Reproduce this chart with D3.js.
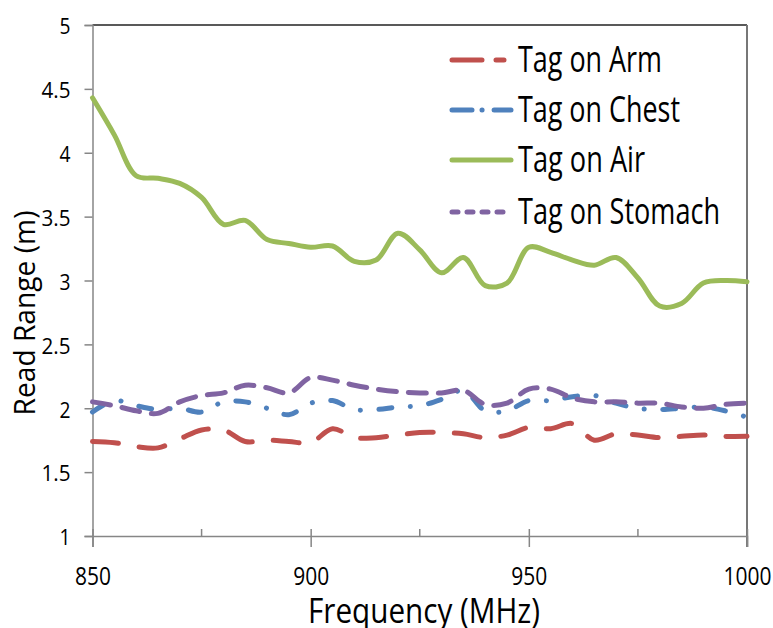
<!DOCTYPE html>
<html>
<head>
<meta charset="utf-8">
<script src="https://cdn.jsdelivr.net/npm/d3@7"></script>
<style>
  body { margin: 0; background: #fff; }
  svg text { font-family: "Open Sans", "DejaVu Sans", sans-serif; fill: #000; }
</style>
</head>
<body>
<svg width="773" height="628"></svg>
<script>
var freq = d3.range(850, 1001, 5);

// read range (m) per 5 MHz step
var arm = [1.74, 1.73, 1.70, 1.69, 1.76, 1.83, 1.83, 1.74, 1.75, 1.74, 1.73,
           1.84, 1.77, 1.77, 1.79, 1.81, 1.81, 1.80, 1.77, 1.79, 1.85, 1.84,
           1.88, 1.75, 1.80, 1.79, 1.77, 1.78, 1.79, 1.78, 1.78];
var chest = [1.97, 2.06, 2.02, 1.99, 2.00, 1.97, 2.05, 2.05, 2.00, 1.95, 2.04,
             2.06, 1.99, 1.99, 2.01, 2.02, 2.07, 2.14, 1.98, 1.98, 2.06, 2.06,
             2.09, 2.10, 2.04, 2.00, 1.99, 2.00, 2.01, 1.98, 1.93];
var air = [4.43, 4.14, 3.82, 3.80, 3.76, 3.65, 3.44, 3.47, 3.32, 3.29, 3.26,
           3.27, 3.15, 3.16, 3.37, 3.24, 3.06, 3.18, 2.96, 2.98, 3.26, 3.22,
           3.16, 3.12, 3.18, 3.02, 2.80, 2.82, 2.98, 3.00, 2.99];
var stomach = [2.05, 2.02, 1.98, 1.96, 2.05, 2.10, 2.12, 2.18, 2.16, 2.12, 2.24,
               2.22, 2.18, 2.15, 2.13, 2.12, 2.12, 2.14, 2.03, 2.04, 2.15, 2.15,
               2.08, 2.05, 2.05, 2.04, 2.04, 2.01, 2.00, 2.03, 2.04];

var seriesNames = ["Tag on Arm", "Tag on Chest", "Tag on Air", "Tag on Stomach"];
var xTicks = [850, 900, 950, 1000];
var xMinor = [875, 925, 975];
var yTicks = [1, 1.5, 2, 2.5, 3, 3.5, 4, 4.5, 5];

var series = [
  {name: seriesNames[0], values: arm, color: "#c0504d", dash: "26,21", legendDash: "30,14,8,40"},
  {name: seriesNames[1], values: chest, color: "#4f81bd", dash: "13,18.5,0.1,18.5", legendDash: "20,10,0.1,12,20"},
  {name: seriesNames[2], values: air, color: "#9bbb59", dash: null, legendDash: null},
  {name: seriesNames[3], values: stomach, color: "#8064a2", dash: "18,12", legendDash: "6,9"}
];

var svg = d3.select("svg");
var plotLeft = 92.5, plotRight = 747, plotTop = 25, plotBottom = 536;

var x = d3.scaleLinear().domain([850, 1000]).range([plotLeft, plotRight]);
var y = d3.scaleLinear().domain([1, 5]).range([plotBottom, plotTop]);

// frame
svg.append("line").attr("x1", plotLeft).attr("x2", plotRight).attr("y1", plotTop).attr("y2", plotTop)
    .attr("stroke", "#222").attr("stroke-width", 1.5);
svg.append("line").attr("x1", plotRight).attr("x2", plotRight).attr("y1", plotTop).attr("y2", plotBottom + 11)
    .attr("stroke", "#777").attr("stroke-width", 2);

// y axis
var yAxis = svg.append("g").attr("transform", "translate(" + plotLeft + ",0)")
    .call(d3.axisLeft(y).tickValues(yTicks).tickSize(8).tickPadding(14).tickFormat(d3.format("")));
yAxis.select(".domain").attr("stroke", "#868686").attr("stroke-width", 1.5);
yAxis.selectAll(".tick line").attr("stroke", "#868686").attr("stroke-width", 1.5);
yAxis.selectAll(".tick text").attr("font-size", 21)
    .attr("textLength", function(d) { return String(d).length === 1 ? 11 : 29; })
    .attr("lengthAdjust", "spacingAndGlyphs")
    .attr("dy", "0.42em");

// x axis
var xAxis = svg.append("g").attr("transform", "translate(0," + plotBottom + ")")
    .call(d3.axisBottom(x).tickValues(xTicks).tickSize(11).tickPadding(20).tickFormat(d3.format("")));
xAxis.select(".domain").attr("stroke", "#868686").attr("stroke-width", 1.5);
xAxis.selectAll(".tick line").attr("stroke", "#868686").attr("stroke-width", 1.5).attr("y1", -7);
xAxis.selectAll(".tick text").attr("font-size", 26)
    .attr("textLength", function(d) { return String(d).length * 12; })
    .attr("lengthAdjust", "spacingAndGlyphs");
svg.append("g").selectAll("line").data(xMinor).join("line")
    .attr("x1", function(d) { return x(d); }).attr("x2", function(d) { return x(d); })
    .attr("y1", plotBottom - 7).attr("y2", plotBottom)
    .attr("stroke", "#868686").attr("stroke-width", 1.5);

// axis titles
svg.append("text").attr("x", 424).attr("y", 623).attr("text-anchor", "middle")
    .attr("font-size", 34).attr("textLength", 232).attr("lengthAdjust", "spacingAndGlyphs")
    .text("Frequency (MHz)");
svg.append("text").attr("transform", "translate(35,313) rotate(-90)").attr("text-anchor", "middle")
    .attr("font-size", 29).attr("textLength", 205).attr("lengthAdjust", "spacingAndGlyphs")
    .text("Read Range (m)");

// lines
var line = d3.line()
    .x(function(d, i) { return x(freq[i]); })
    .y(function(d) { return y(d); })
    .curve(d3.curveCatmullRom.alpha(0.5));

svg.append("g").selectAll("path").data(series).join("path")
    .attr("d", function(d) { return line(d.values); })
    .attr("fill", "none")
    .attr("stroke", function(d) { return d.color; })
    .attr("stroke-width", 5)
    .attr("stroke-linecap", "round")
    .attr("stroke-linejoin", "round")
    .attr("stroke-dasharray", function(d) { return d.dash; });

// legend
var legendY = [60, 110, 160, 212];
var legendW = [144, 162, 127, 202];
var legend = svg.append("g").selectAll("g").data(series).join("g")
    .attr("transform", function(d, i) { return "translate(0," + legendY[i] + ")"; });
legend.append("line").attr("x1", 452).attr("x2", 511).attr("y1", 0).attr("y2", 0)
    .attr("stroke", function(d) { return d.color; })
    .attr("stroke-width", 5)
    .attr("stroke-linecap", "round")
    .attr("stroke-dasharray", function(d) { return d.legendDash; });
legend.append("text").attr("x", 518).attr("y", 12).attr("font-size", 37)
    .attr("textLength", function(d, i) { return legendW[i]; })
    .attr("lengthAdjust", "spacingAndGlyphs")
    .text(function(d) { return d.name; });
</script>
</body>
</html>
